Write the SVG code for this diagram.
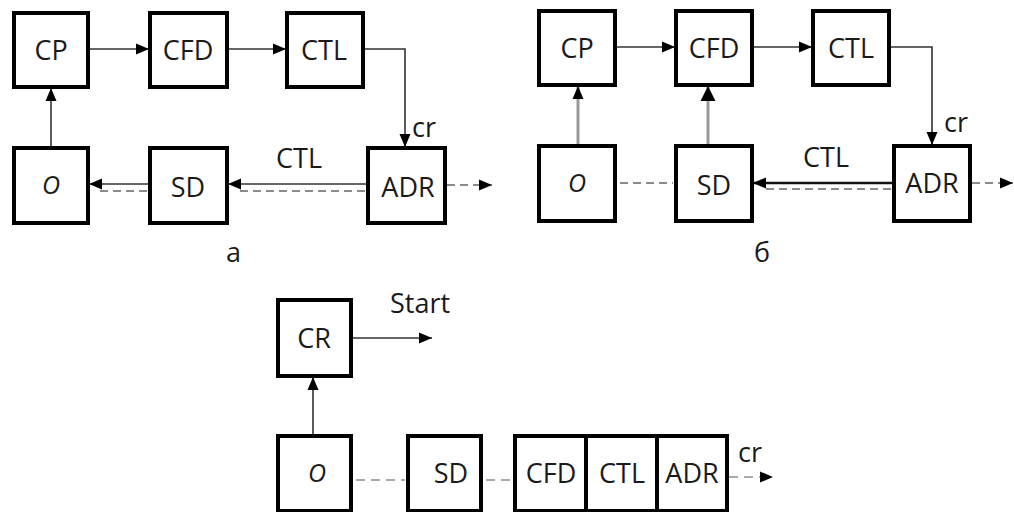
<svg xmlns="http://www.w3.org/2000/svg" width="1014" height="512" viewBox="0 0 1014 512">
  <style>
    .box { fill: #ffffff; stroke: #000000; stroke-width: 4; }
    .lbl { font-family: "Open Sans", "Liberation Sans", sans-serif; font-size: 27px; fill: #1a1a1a; text-anchor: middle; }
    .it { font-style: italic; font-size: 25px; }
    .cap { font-family: "Open Sans", "Liberation Sans", sans-serif; font-size: 27px; fill: #1a1a1a; }
    .ln { fill: none; stroke: #333333; stroke-width: 1.6; }
    .thick { fill: none; stroke: #111111; stroke-width: 2.6; }
    .gray { fill: none; stroke: #999999; stroke-width: 3; }
    .dash { fill: none; stroke: #666666; stroke-width: 1.6; stroke-dasharray: 8 5; }
    .ldash { fill: none; stroke: #aaaaaa; stroke-width: 2.2; stroke-dasharray: 9 6; }
  </style>
  <defs>
    <marker id="ah" markerUnits="userSpaceOnUse" markerWidth="16" markerHeight="14" refX="13" refY="7" orient="auto">
      <path d="M0,1.5 L13,7 L0,12.5 Z" fill="#000"/>
    </marker>
    <marker id="ahBig" markerUnits="userSpaceOnUse" markerWidth="18" markerHeight="18" refX="15" refY="9" orient="auto">
      <path d="M0,1.5 L15,9 L0,16.5 Z" fill="#000"/>
    </marker>
  </defs>

  <rect width="1014" height="512" fill="#ffffff"/>

  <!-- connectors -->
  <g id="connectors">
    <!-- scheme a -->
    <line class="ln" x1="88" y1="49" x2="149" y2="49" marker-end="url(#ah)"/>
    <line class="ln" x1="227" y1="49" x2="286" y2="49" marker-end="url(#ah)"/>
    <polyline class="ln" points="363,49 405,49 405,147" marker-end="url(#ah)"/>
    <line class="ln" x1="51" y1="147" x2="51" y2="88" marker-end="url(#ah)"/>
    <line class="ln" x1="149" y1="184" x2="89" y2="184" marker-end="url(#ah)"/>
    <line class="dash" x1="147" y1="191" x2="95" y2="191"/>
    <line class="ln" x1="367" y1="184" x2="228" y2="184" marker-end="url(#ah)"/>
    <line class="dash" x1="365" y1="191" x2="236" y2="191"/>
    <line class="dash" x1="447" y1="185" x2="492" y2="185" marker-end="url(#ah)"/>

    <!-- scheme b -->
    <line class="ln" x1="615" y1="47" x2="675" y2="47" marker-end="url(#ah)"/>
    <line class="ln" x1="752" y1="47" x2="812" y2="47" marker-end="url(#ah)"/>
    <polyline class="ln" points="889,47 932,47 932,145" marker-end="url(#ah)"/>
    <line class="gray" x1="578" y1="145" x2="578" y2="86" marker-end="url(#ah)"/>
    <line class="gray" x1="708" y1="145" x2="708" y2="86" marker-end="url(#ahBig)"/>
    <line class="dash" x1="620" y1="183" x2="673" y2="183"/>
    <line class="thick" x1="893" y1="183" x2="753" y2="183" marker-end="url(#ah)"/>
    <line class="dash" x1="891" y1="189" x2="762" y2="189"/>
    <line class="dash" x1="972" y1="183" x2="1013" y2="183" marker-end="url(#ah)"/>

    <!-- scheme c -->
    <line class="ln" x1="351" y1="338" x2="432" y2="338" marker-end="url(#ah)"/>
    <line class="ln" x1="313" y1="435" x2="313" y2="377" marker-end="url(#ah)"/>
    <line class="ldash" x1="356" y1="480" x2="405" y2="480"/>
    <line class="ldash" x1="486" y1="480" x2="513" y2="480"/>
    <line class="ldash" x1="729" y1="477" x2="773" y2="477" marker-end="url(#ah)"/>
  </g>

  <!-- scheme a nodes -->
  <g id="a-CP"><rect class="box" x="14" y="13" width="74" height="74"/><text class="lbl" x="51" y="60">CP</text></g>
  <g id="a-CFD"><rect class="box" x="150" y="13" width="77" height="74"/><text class="lbl" x="188" y="60">CFD</text></g>
  <g id="a-CTL"><rect class="box" x="287" y="13" width="76" height="74"/><text class="lbl" x="324" y="60">CTL</text></g>
  <g id="a-O"><rect class="box" x="14" y="148" width="74" height="75"/><text class="lbl it" x="51" y="194">O</text></g>
  <g id="a-SD"><rect class="box" x="150" y="148" width="77" height="75"/><text class="lbl" x="188" y="197">SD</text></g>
  <g id="a-ADR"><rect class="box" x="368" y="148" width="77" height="75"/><text class="lbl" x="408" y="197">ADR</text></g>
  <text class="cap" x="412" y="137">cr</text>
  <text class="cap" x="276" y="168">CTL</text>
  <text class="cap" x="226" y="262">а</text>

  <!-- scheme b nodes -->
  <g id="b-CP"><rect class="box" x="539" y="11" width="76" height="74"/><text class="lbl" x="577" y="58">CP</text></g>
  <g id="b-CFD"><rect class="box" x="676" y="11" width="76" height="74"/><text class="lbl" x="714" y="58">CFD</text></g>
  <g id="b-CTL"><rect class="box" x="813" y="11" width="76" height="74"/><text class="lbl" x="851" y="58">CTL</text></g>
  <g id="b-O"><rect class="box" x="539" y="146" width="76" height="75"/><text class="lbl it" x="577" y="192">O</text></g>
  <g id="b-SD"><rect class="box" x="676" y="146" width="76" height="75"/><text class="lbl" x="714" y="195">SD</text></g>
  <g id="b-ADR"><rect class="box" x="894" y="146" width="76" height="75"/><text class="lbl" x="932" y="193">ADR</text></g>
  <text class="cap" x="944" y="132">cr</text>
  <text class="cap" x="803" y="167">CTL</text>
  <text class="cap" x="754" y="262">б</text>

  <!-- scheme c nodes -->
  <g id="c-CR"><rect class="box" x="278" y="300" width="73" height="76"/><text class="lbl" x="314" y="348">CR</text></g>
  <text class="cap" x="390" y="313">Start</text>
  <g id="c-O"><rect class="box" x="278" y="436" width="73" height="75"/><text class="lbl it" x="317" y="482">O</text></g>
  <g id="c-SD"><rect class="box" x="408" y="436" width="73" height="75"/><text class="lbl" x="451" y="483">SD</text></g>
  <g id="c-CFD"><rect class="box" x="515" y="436" width="71" height="75"/><text class="lbl" x="551" y="483">CFD</text></g>
  <g id="c-CTL"><rect class="box" x="586" y="436" width="71" height="75"/><text class="lbl" x="622" y="483">CTL</text></g>
  <g id="c-ADR"><rect class="box" x="657" y="436" width="70" height="75"/><text class="lbl" x="692" y="483">ADR</text></g>
  <text class="cap" x="738" y="462">cr</text>
</svg>
